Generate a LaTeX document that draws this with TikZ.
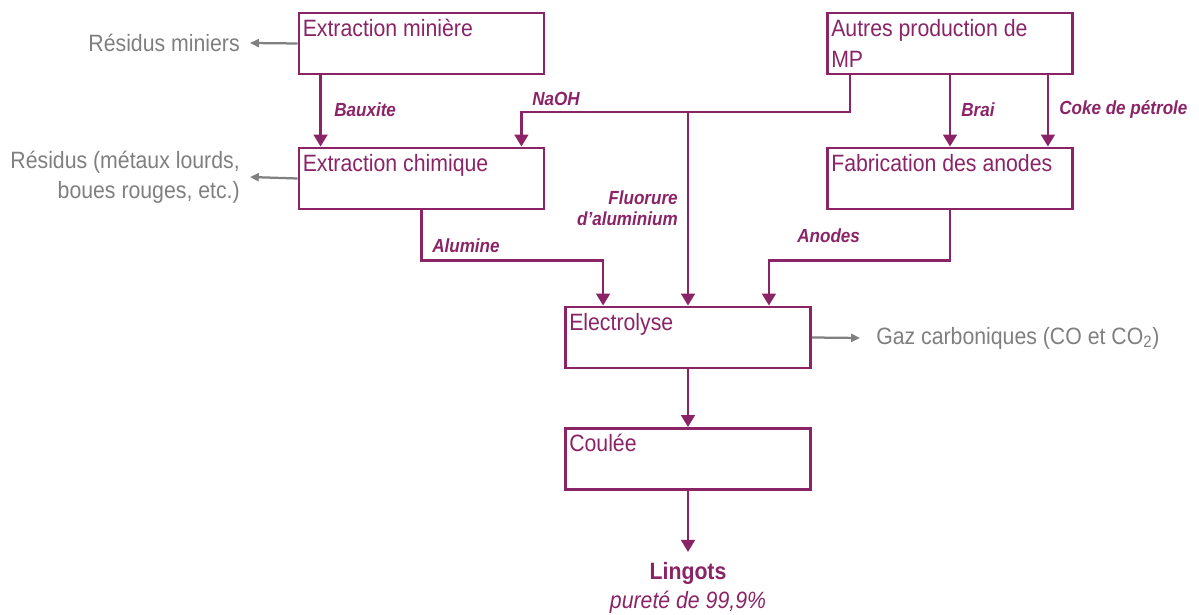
\documentclass[tikz,border=0pt]{standalone}
\usepackage{fontspec}
\setmainfont{Liberation Sans}[FakeStretch=0.9]
\usetikzlibrary{positioning,calc,arrows.meta}
\definecolor{prpl}{HTML}{8A2467}
\definecolor{gline}{HTML}{808080}
\definecolor{gtxt}{HTML}{7F7F7F}
\tikzset{
  proc/.style   ={draw=prpl, line width=2pt, fill=white, inner sep=0pt,
                  minimum width=6.125cm, minimum height=1.525cm},
  ptxt/.style   ={anchor=north west, text=prpl, align=left, inner xsep=3.5pt, inner ysep=5pt,
                  font=\fontsize{16.8}{22.5}\selectfont},
  flow/.style   ={-{Triangle[length=3mm,width=3.4mm]}, line width=2pt, draw=prpl},
  waste/.style  ={-{Triangle[length=2.2mm,width=2mm]}, line width=1.6pt, draw=gline},
  flowlab/.style={text=prpl, align=right, inner sep=0pt,
                  font=\fontsize{13.5}{15}\selectfont\bfseries\itshape},
  outtxt/.style ={text=gtxt, inner xsep=2.5mm, inner ysep=0pt,
                  font=\fontsize{16.8}{21}\selectfont},
}

\begin{document}
\begin{tikzpicture}[x=0.025cm, y=-0.025cm]
  \useasboundingbox (0,0) rectangle (1199,615);

  % ---- process boxes ----
  \node[proc, label={[ptxt]north west:Extraction minière}] (mine) at (421.5,43.5) {};
  \node[proc, label={[ptxt]north west:Autres production de\\MP}] (autres) at (950,43.5) {};
  \node[proc, label={[ptxt]north west:Extraction chimique}] (chem) at (421.5,178.5) {};
  \node[proc, label={[ptxt]north west:Fabrication des anodes}] (anod) at (950,178.5) {};
  \node[proc, label={[ptxt]north west:Electrolyse}] (elec) at (688,337.5) {};
  \node[proc, label={[ptxt]north west:Coulée}] (coul) at (688,459) {};

  % ---- final product ----
  \node[text=prpl, align=center, inner sep=0pt, anchor=north,
        font=\fontsize{16.8}{20.5}\selectfont] (ling) at (688,562)
      {\textbf{Lingots}\\\textit{pureté de 99,9\%}};

  % ---- side outputs (grey) ----
  \node[outtxt, anchor=east] (res1) at (250,43) {Résidus miniers};
  \node[outtxt, anchor=east, align=right] (res2) at (250,177)
      {Résidus (métaux lourds,\\boues rouges, etc.)};
  \node[outtxt, anchor=west, inner xsep=4mm] (gaz) at (860,338)
      {Gaz carboniques (CO et CO\textsubscript{2})};
  \draw[waste] (mine.west) -- (res1.east);
  \draw[waste] (chem.west) -- (res2.east);
  \draw[waste] (elec.east) -- (gaz.west);

  % ---- raw material flows ----
  \coordinate (jn) at (688,112);
  \draw[flow] ([xshift=5.75mm]mine.south west) -- ([xshift=5.75mm]chem.north west);
  \draw[flow] ([xshift=6mm]autres.south west) |- (jn) -| ([xshift=-6mm]chem.north east);
  \draw[flow] (jn) -- (elec.north);
  \draw[flow] (autres.south) -- (anod.north);
  \draw[flow] ([xshift=-6.5mm]autres.south east) -- ([xshift=-6.5mm]anod.north east);
  \draw[flow] (chem.south) -- ++(0,50) -| ([xshift=9.75mm]elec.north west);
  \draw[flow] (anod.south) -- ++(0,50) -| ([xshift=-10.75mm]elec.north east);
  \draw[flow] (elec.south) -- (coul.north);
  \draw[flow] (coul.south) -- ([yshift=2.5mm]ling.north);

  % ---- flow labels ----
  \node[flowlab, anchor=west] (lbaux) at (334,110) {Bauxite};
  \node[flowlab, anchor=west] (lnaoh) at (532,99) {NaOH};
  \node[flowlab, anchor=east] (lfluo) at (678,208) {Fluorure\\d’aluminium};
  \node[flowlab, anchor=west] (lbrai) at (961,110) {Brai};
  \node[flowlab, anchor=west] (lcoke) at (1059,110) {Coke de pétrole};
  \node[flowlab, anchor=west] (lalum) at (432,246) {Alumine};
  \node[flowlab, anchor=west] (lanod) at (797,236) {Anodes};

\end{tikzpicture}
\end{document}
